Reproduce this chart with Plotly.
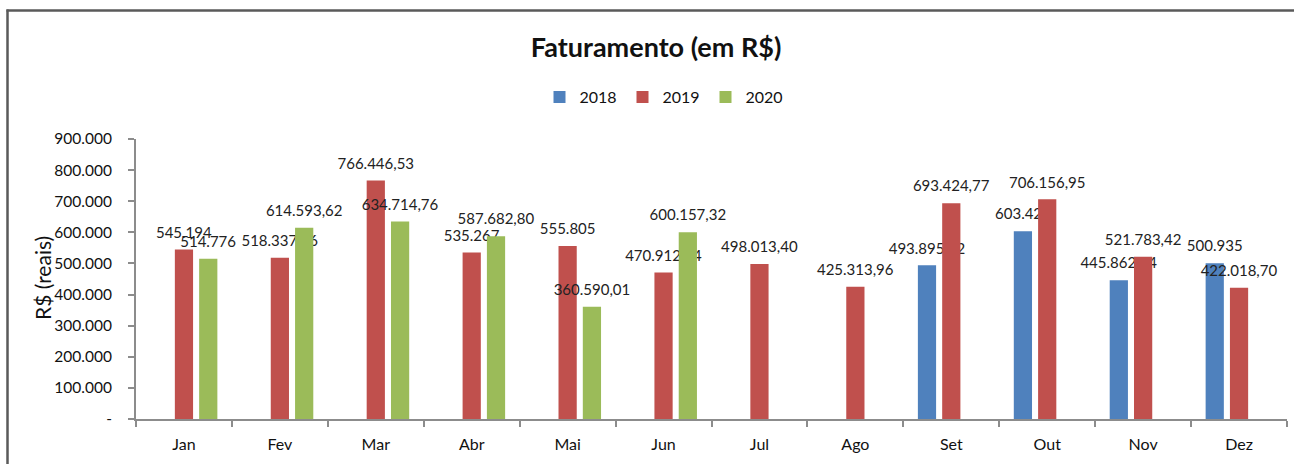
import plotly.graph_objects as go

months = ["Jan", "Fev", "Mar", "Abr", "Mai", "Jun", "Jul", "Ago", "Set", "Out", "Nov", "Dez"]
v2018 = [None, None, None, None, None, None, None, None, 493895.52, 603423, 445862.54, 500935]
v2019 = [545194, 518337.06, 766446.53, 535267, 555805, 470912.44, 498013.40, 425313.96,
         693424.77, 706156.95, 521783.42, 422018.70]
v2020 = [514776, 614593.62, 634714.76, 587682.80, 360590.01, 600157.32,
         None, None, None, None, None, None]
series_names = ["2018", "2019", "2020"]
series_colors = ["#4F81BD", "#C0504D", "#9BBB59"]
ytick_vals = [0, 100000, 200000, 300000, 400000, 500000, 600000, 700000, 800000, 900000]
ytick_text = ["-", "100.000", "200.000", "300.000", "400.000", "500.000",
              "600.000", "700.000", "800.000", "900.000"]

FONT = "Lato, Calibri, Carlito, sans-serif"


def br_fmt(v):
    if v is None:
        return ""
    if float(v).is_integer():
        s = f"{int(v):,}".replace(",", ".")
    else:
        s = f"{v:,.2f}".replace(",", "X").replace(".", ",").replace("X", ".")
    return "<span style='font-size:15px'>" + s + "</span><br> "


fig = go.Figure()
for name, vals, col in zip(series_names, [v2018, v2019, v2020], series_colors):
    fig.add_trace(go.Bar(
        x=months, y=vals, name=name,
        marker=dict(color=col, line=dict(width=0)),
        text=[br_fmt(v) for v in vals],
        textposition="outside",
        constraintext="none",
        cliponaxis=False,
        textfont=dict(family=FONT, size=6, color="#222222"),
        hoverinfo="x+y+name",
    ))

W, H = 1294, 464
L, R, T, B = 136, 7, 139, 45
pw, ph = W - L - R, H - T - B


def px_x(p):
    return (p - L) / pw


def px_y(p):
    return (H - B - p) / ph


fig.update_layout(
    width=W, height=H,
    margin=dict(l=L, r=R, t=T, b=B),
    paper_bgcolor="white", plot_bgcolor="white",
    barmode="group", bargap=0.24, bargroupgap=0.25,
    font=dict(family=FONT, size=15.5, color="#111111"),
    title=dict(text="<b>Faturamento (em R$)</b>", x=0.507, xref="container",
               y=1 - 48 / H, yref="container", xanchor="center", yanchor="middle",
               font=dict(family=FONT, size=27, color="#111111")),
    legend=dict(orientation="h", x=664 / W, xref="container", xanchor="center",
                y=1 - 97 / H, yref="container", yanchor="middle",
                font=dict(family=FONT, size=16, color="#111111"),
                itemwidth=30, entrywidth=38, traceorder="normal"),
    xaxis=dict(showline=True, linecolor="#8C8C8C", linewidth=2,
               ticks="outside", tickson="boundaries", ticklen=6, tickcolor="#8C8C8C",
               tickwidth=1.5, showgrid=False, tickfont=dict(size=16),
               ticklabelstandoff=10, fixedrange=True),
    yaxis=dict(range=[0, 900000], tickvals=ytick_vals, ticktext=ytick_text,
               showline=True, linecolor="#8C8C8C", linewidth=2,
               ticks="outside", ticklen=6, tickcolor="#8C8C8C", tickwidth=1.5,
               showgrid=False, zeroline=False, tickfont=dict(size=15.5),
               ticklabelstandoff=13, fixedrange=True),
    annotations=[dict(text="R$ (reais)", textangle=-90, xref="paper", yref="paper",
                      x=px_x(42), y=px_y(278), xanchor="center", yanchor="middle",
                      showarrow=False, font=dict(family=FONT, size=21, color="#111111"))],
    shapes=[
        dict(type="line", xref="paper", yref="paper",
             x0=px_x(7.5), x1=px_x(7.5), y0=px_y(470), y1=px_y(9.5),
             line=dict(color="#5A5A5A", width=2.5), layer="below"),
        dict(type="line", xref="paper", yref="paper",
             x0=px_x(6.5), x1=px_x(1300), y0=px_y(10.5), y1=px_y(10.5),
             line=dict(color="#5A5A5A", width=2.5), layer="below"),
    ],
    showlegend=True,
)

fig.write_html("out.html", config={"displayModeBar": False},
               post_script="document.body.style.margin='0';document.body.style.overflow='hidden';")
